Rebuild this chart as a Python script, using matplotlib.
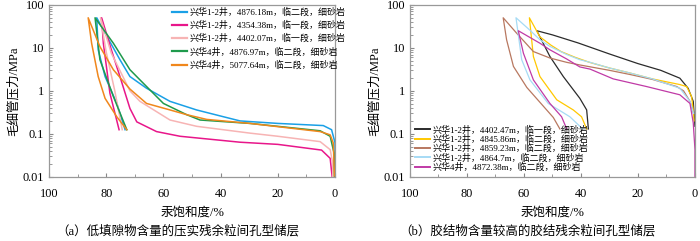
import matplotlib
matplotlib.use("Agg")
import matplotlib.pyplot as plt
from matplotlib.ticker import FixedLocator, LogLocator, NullFormatter

plt.rcParams['font.family'] = ['Liberation Serif', 'Noto Sans CJK SC']
plt.rcParams['axes.unicode_minus'] = False

# ---- (a) 压实残余粒间孔型储层: 进汞 + 退汞 曲线 (汞饱和度 %, 毛细管压力 MPa) ----
a_labels = ['兴华1-2井，4876.18m，临二段，细砂岩',
            '兴华1-2井，4354.38m，临一段，细砂岩',
            '兴华1-2井，4402.07m，临一段，细砂岩',
            '兴华4井，4876.97m，临二段，细砂岩',
            '兴华4井，5077.64m，临二段，细砂岩']
a_colors = ['#1aa0e6', '#e8168a', '#f7b4b4', '#1f9a4c', '#f0871c']

a1_sat = [0, 0, 1.2, 4.1, 20, 33.2, 39, 48.4, 57.7, 65.9, 71.7, 75.2, 80.4, 83.3,
          82.8, 80.4, 76.3, 73.4]
a1_pc = [0.01, 0.062, 0.125, 0.156, 0.175, 0.2, 0.25, 0.36, 0.57, 1.15, 2.15, 5.3, 22, 50,
         9, 2.15, 0.51, 0.125]
a2_sat = [1, 1.7, 4.7, 20, 33.2, 54.2, 62.4, 69.3, 71.7, 75.2, 78.2, 81.6,
          81, 78.7, 75.5]
a2_pc = [0.01, 0.027, 0.042, 0.057, 0.064, 0.088, 0.113, 0.19, 0.39, 2.15, 9, 50,
         12.8, 0.88, 0.125]
a3_sat = [0.8, 0.8, 1.7, 5.2, 20, 29.7, 48.4, 57.7, 68.2, 71.7, 78.2, 82,
          80, 77, 74.4]
a3_pc = [0.01, 0.021, 0.043, 0.066, 0.088, 0.104, 0.15, 0.21, 0.57, 1.0, 7.5, 50,
         8, 1.0, 0.125]
a4_sat = [0.2, 0.35, 1.7, 5.2, 29.7, 47.2, 51.9, 60, 64.7, 68.2, 71.7, 77.5, 83.9,
          82.2, 77.5, 72.8]
a4_pc = [0.01, 0.036, 0.088, 0.118, 0.175, 0.21, 0.28, 0.51, 1.05, 1.8, 3.1, 12.8, 50,
         5.3, 0.74, 0.125]
a5_sat = [0.2, 0.6, 1.7, 5.2, 29.7, 44.9, 51.9, 57.7, 65.9, 71.7, 77.5, 82.2, 86.3,
          85.1, 82.8, 80.4, 76.3, 72.8]
a5_pc = [0.0105, 0.061, 0.095, 0.113, 0.175, 0.217, 0.28, 0.36, 0.51, 1.1, 3.1, 10.7, 50,
         12.8, 2.15, 0.67, 0.25, 0.125]

# ---- (b) 胶结残余粒间孔型储层 ----
b_labels = ['兴华1-2井，4402.47m，临一段，细砂岩',
            '兴华1-2井，4845.86m，临二段，细砂岩',
            '兴华1-2井，4859.23m，临二段，细砂岩',
            '兴华1-2井，4864.7m，临二段，细砂岩',
            '兴华4井，4872.38m，临二段，细砂岩']
b_colors = ['#2b2b2b', '#ffc800', '#b87860', '#a6dbf5', '#c03aa6']

b1_sat = [0, 0.6, 2.4, 5.3, 12, 20, 30, 41, 50, 55.5,
          50.9, 46.2, 40.4, 38, 37.4]
b1_pc = [0.15, 0.57, 1.15, 1.97, 3.0, 4.3, 7.2, 13, 20, 25,
         6.3, 2.15, 0.67, 0.36, 0.13]
b2_sat = [0.3, 0.6, 1.2, 2.9, 5.3, 15, 22.8, 30, 37, 42, 47, 50.5, 54.4, 58.1,
          56.7, 54.4, 48.5, 42.7, 39.8, 38]
b2_pc = [0.2, 0.36, 0.74, 1.26, 1.4, 1.9, 2.6, 3.4, 4.6, 6, 8.2, 11.5, 18, 50,
         6.3, 2.15, 0.62, 0.36, 0.25, 0.13]
b3_sat = [0.5, 1.75, 4, 6.4, 15, 22.8, 30, 40.4, 45, 50.9, 56.7, 62.6, 67.3,
          66.1, 63.7, 59, 53.2, 49.7, 47.4]
b3_pc = [0.3, 0.57, 1.0, 1.26, 1.85, 2.4, 3.0, 4.0, 4.6, 5.8, 8.2, 22, 50,
         15.4, 3.7, 1.2, 0.44, 0.24, 0.13]
b4_sat = [0.5, 1.75, 5.3, 15, 22.8, 30, 36.8, 40.4, 45, 50.9, 54.4, 58, 62.8,
          60.8, 57.9, 51.5, 43.9, 39.4]
b4_pc = [0.3, 0.57, 1.15, 1.9, 2.6, 3.4, 4.6, 5.3, 7, 10.8, 15.4, 26, 50,
         5.3, 1.8, 0.51, 0.25, 0.13]
b5_sat = [0, 0, 0.6, 1.75, 5.3, 17, 28.7, 36.8, 40.4, 45, 50.9, 54.4, 62,
          60.2, 56.7, 50.9, 46.8, 45]
b5_pc = [0.01, 0.043, 0.18, 0.51, 0.81, 1.26, 1.9, 3.2, 3.6, 5.5, 9, 12.8, 25,
         7.5, 1.8, 0.51, 0.25, 0.13]

y_ticks = [0.01, 0.1, 1, 10, 100]
y_ticklabels = ['0.01', '0.1', '1', '10', '100']
x_ticks = [100, 80, 60, 40, 20, 0]


def style_axes(ax):
    """对数纵轴, 反向横轴, 灰色边框, 刻度朝内"""
    ax.set_yscale('log')
    ax.set_ylim(0.01, 100)
    ax.set_xlim(100, 0)
    ax.set_yticks(y_ticks)
    ax.set_yticklabels(y_ticklabels)
    ax.yaxis.set_minor_locator(LogLocator(base=10, subs=range(2, 10)))
    ax.yaxis.set_minor_formatter(NullFormatter())
    ax.set_xticks(x_ticks)
    ax.xaxis.set_minor_locator(FixedLocator([90, 70, 50, 30, 10]))
    ax.tick_params(which='both', direction='in', color='#888888', labelsize=8.8)
    ax.tick_params(which='major', length=3)
    ax.tick_params(which='minor', length=2)
    ax.tick_params(axis='x', pad=8)
    for sp in ax.spines.values():
        sp.set_color('#999999')
        sp.set_linewidth(0.9)
    ax.set_xlabel('汞饱和度/%', fontsize=9, labelpad=5)
    ax.set_ylabel('毛细管压力/MPa', fontsize=9, labelpad=2)


fig = plt.figure(figsize=(7.0, 2.41), dpi=100)
ax1 = fig.add_axes([0.07, 0.266, 0.4086, 0.714])
ax2 = fig.add_axes([0.5857, 0.266, 0.4071, 0.714])

# 左图
a_sats = [a1_sat, a2_sat, a3_sat, a4_sat, a5_sat]
a_pcs = [a1_pc, a2_pc, a3_pc, a4_pc, a5_pc]
for s, p, c, lab in zip(a_sats, a_pcs, a_colors, a_labels):
    ax1.plot(s, p, color=c, lw=1.1, label=lab)
style_axes(ax1)
leg1 = ax1.legend(loc='upper left', bbox_to_anchor=(0.43, 0.985), frameon=False,
                  fontsize=6.5, handlelength=1.7, handletextpad=0.25,
                  labelspacing=0.44, borderaxespad=0, borderpad=0)
for h in leg1.get_lines():
    h.set_linewidth(1.6)

# 右图
b_sats = [b1_sat, b2_sat, b3_sat, b4_sat, b5_sat]
b_pcs = [b1_pc, b2_pc, b3_pc, b4_pc, b5_pc]
for s, p, c, lab in zip(b_sats, b_pcs, b_colors, b_labels):
    ax2.plot(s, p, color=c, lw=0.9, label=lab)
style_axes(ax2)
leg2 = ax2.legend(loc='lower left', bbox_to_anchor=(0.018, 0.03), frameon=False,
                  fontsize=6.5, handlelength=1.7, handletextpad=0.25,
                  labelspacing=0.0, borderaxespad=0, borderpad=0)
for h in leg2.get_lines():
    h.set_linewidth(1.4)

# 子图标题
fig.text(0.254, 0.025, '（a）低填隙物含量的压实残余粒间孔型储层', ha='center', fontsize=9)
fig.text(0.754, 0.025, '（b）胶结物含量较高的胶结残余粒间孔型储层', ha='center', fontsize=9)

fig.savefig('out.png', dpi=100)
